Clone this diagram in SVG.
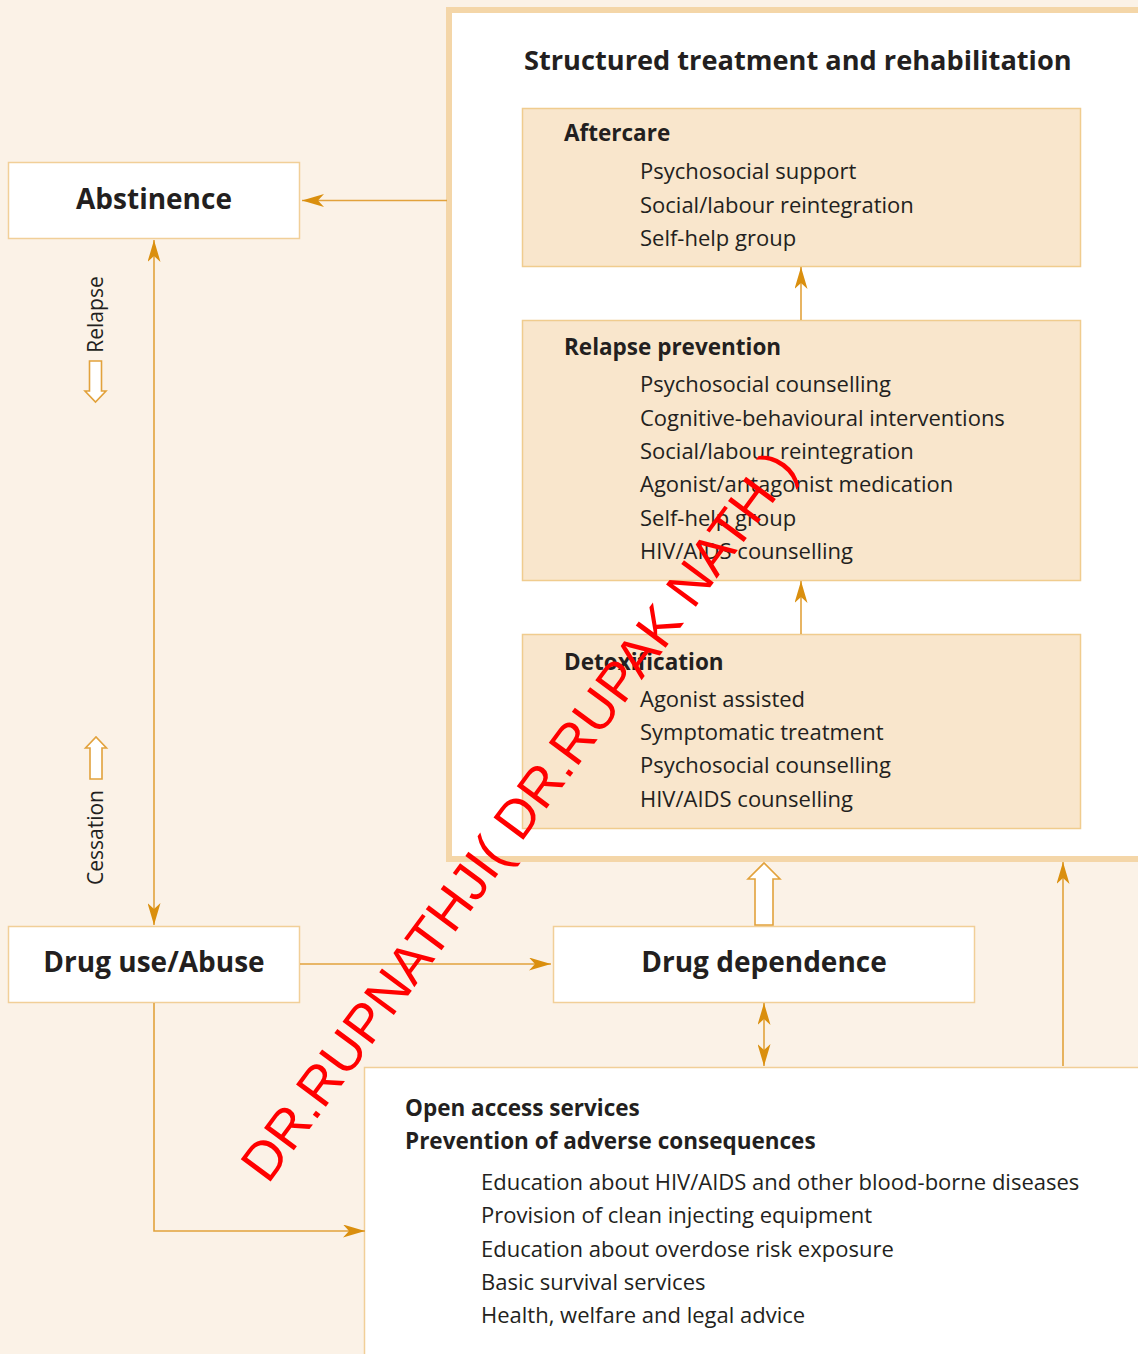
<svg xmlns="http://www.w3.org/2000/svg" width="1138" height="1354" viewBox="0 0 1138 1354">
<style>
.bg{fill:#FBF2E7}
.node{fill:#FFFFFF;stroke:#F1CF98;stroke-width:1.5}
.sub{fill:#F9E6CC;stroke:#F0CC8E;stroke-width:1.5}
.frame{fill:#FFFFFF;stroke:#F4D6A8;stroke-width:6}
.line{fill:none;stroke:#E2A23C;stroke-width:1.6}
.hollow{fill:#FFFFFF;stroke:#E2A23C;stroke-width:1.6;stroke-linejoin:miter}
text{font-family:"Open Sans","Noto Sans","Liberation Sans",sans-serif;fill:#231F20}
.big{font-size:28px;font-weight:bold}
.title{font-size:27.2px;font-weight:bold}
.head{font-size:22.5px;font-weight:bold}
.item{font-size:22px}
.side{font-size:21px}
.wm{font-family:"Liberation Sans",Arial,sans-serif;font-size:54px;fill:#FF0000}
</style>
<defs>
<marker id="ah" viewBox="0 0 22 13" refX="22" refY="6.5" markerWidth="22" markerHeight="13" markerUnits="userSpaceOnUse" orient="auto-start-reverse">
<path d="M0,0 L22,6.5 L0,13 L6,6.5 Z" fill="#DA8F0E"/>
</marker>
</defs>
<rect class="bg" x="0" y="0" width="1138" height="1354"/>

<g id="structured">
<rect class="frame" x="449" y="10" width="700" height="849"/>
<text class="title" x="524" y="70">Structured treatment and rehabilitation</text>
</g>

<g id="aftercare">
<rect class="sub" x="522.5" y="108.5" width="558" height="158"/>
<text class="head" x="564" y="141">Aftercare</text>
<text class="item" x="640" y="179">Psychosocial support</text>
<text class="item" x="640" y="213">Social/labour reintegration</text>
<text class="item" x="640" y="246">Self-help group</text>
</g>

<g id="relapse-prevention">
<rect class="sub" x="522.5" y="320.5" width="558" height="260"/>
<text class="head" x="564" y="355">Relapse prevention</text>
<text class="item" x="640" y="392">Psychosocial counselling</text>
<text class="item" x="640" y="426">Cognitive-behavioural interventions</text>
<text class="item" x="640" y="459">Social/labour reintegration</text>
<text class="item" x="640" y="492">Agonist/antagonist medication</text>
<text class="item" x="640" y="526">Self-help group</text>
<text class="item" x="640" y="559">HIV/AIDS counselling</text>
</g>

<g id="detoxification">
<rect class="sub" x="522.5" y="634.5" width="558" height="194"/>
<text class="head" x="564" y="670">Detoxification</text>
<text class="item" x="640" y="707">Agonist assisted</text>
<text class="item" x="640" y="740">Symptomatic treatment</text>
<text class="item" x="640" y="773">Psychosocial counselling</text>
<text class="item" x="640" y="807">HIV/AIDS counselling</text>
</g>

<g id="abstinence">
<rect class="node" x="8.5" y="162.5" width="291" height="76"/>
<text class="big" x="154" y="209" text-anchor="middle">Abstinence</text>
</g>

<g id="drug-use">
<rect class="node" x="8.5" y="926.5" width="291" height="76"/>
<text class="big" x="154" y="972" text-anchor="middle">Drug use/Abuse</text>
</g>

<g id="drug-dependence">
<rect class="node" x="553.5" y="926.5" width="421" height="76"/>
<text class="big" x="764" y="972" text-anchor="middle">Drug dependence</text>
</g>

<g id="open-access">
<rect class="node" x="364.5" y="1067.5" width="790" height="300"/>
<text class="head" x="405" y="1116">Open access services</text>
<text class="head" x="405" y="1149">Prevention of adverse consequences</text>
<text class="item" x="481" y="1190">Education about HIV/AIDS and other blood-borne diseases</text>
<text class="item" x="481" y="1223">Provision of clean injecting equipment</text>
<text class="item" x="481" y="1257">Education about overdose risk exposure</text>
<text class="item" x="481" y="1290">Basic survival services</text>
<text class="item" x="481" y="1323">Health, welfare and legal advice</text>
</g>

<g id="connectors">
<line class="line" x1="447" y1="200.5" x2="302" y2="200.5" marker-end="url(#ah)"/>
<line class="line" x1="154" y1="240" x2="154" y2="925" marker-start="url(#ah)" marker-end="url(#ah)"/>
<line class="line" x1="300" y1="964" x2="551" y2="964" marker-end="url(#ah)"/>
<polyline class="line" points="154,1003 154,1231 365,1231" marker-end="url(#ah)"/>
<line class="line" x1="764" y1="1003" x2="764" y2="1066" marker-start="url(#ah)" marker-end="url(#ah)"/>
<line class="line" x1="1063" y1="1066" x2="1063" y2="862" marker-end="url(#ah)"/>
<line class="line" x1="801" y1="320" x2="801" y2="267" marker-end="url(#ah)"/>
<line class="line" x1="801" y1="634" x2="801" y2="581" marker-end="url(#ah)"/>
<path class="hollow" d="M755,925 L755,879 L748,879 L764,863 L780,879 L773,879 L773,925 Z"/>
<path class="hollow" d="M89.5,361 L101.5,361 L101.5,391 L106,391 L95.5,402 L85,391 L89.5,391 Z"/>
<path class="hollow" d="M90,779 L102,779 L102,748 L106.5,748 L96,737 L85.5,748 L90,748 Z"/>
<text class="side" transform="translate(103,314.5) rotate(-90)" text-anchor="middle">Relapse</text>
<text class="side" transform="translate(103,837.5) rotate(-90)" text-anchor="middle">Cessation</text>
</g>

<text class="wm" transform="translate(268,1185) rotate(-53.5)">DR.RUPNATHJI( DR.RUPAK NATH )</text>
</svg>
